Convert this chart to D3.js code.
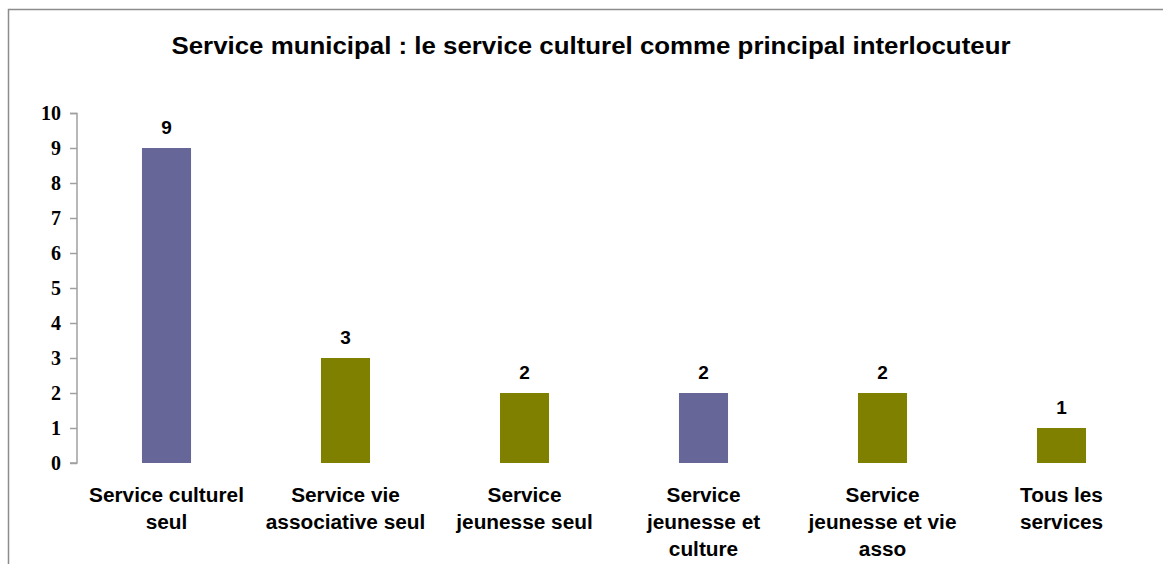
<!DOCTYPE html>
<html>
<head>
<meta charset="utf-8">
<script src="https://cdn.jsdelivr.net/npm/d3@7"></script>
<style>
  body { margin: 0; background: #fff; }
  svg { display: block; }
</style>
</head>
<body>
<script>
// chart data
var categories = ["Service culturel seul", "Service vie associative seul", "Service jeunesse seul",
                  "Service jeunesse et culture", "Service jeunesse et vie asso", "Tous les services"];
var labelLines = [["Service culturel", "seul"], ["Service vie", "associative seul"], ["Service", "jeunesse seul"],
                  ["Service", "jeunesse et", "culture"], ["Service", "jeunesse et vie", "asso"], ["Tous les", "services"]];
var values = [9, 3, 2, 2, 2, 1];
var barColors = ["#666699", "#808000", "#808000", "#666699", "#808000", "#808000"];
var yTicks = [0, 1, 2, 3, 4, 5, 6, 7, 8, 9, 10];
var title = "Service municipal : le service culturel comme principal interlocuteur";

var width = 1163, height = 564;

var svg = d3.select("body").append("svg")
    .attr("width", width)
    .attr("height", height);

// outer frame
svg.append("rect")
    .attr("x", 8.5).attr("y", 9.5)
    .attr("width", 1200).attr("height", 600)
    .attr("fill", "none")
    .attr("stroke", "#8c8c8c")
    .attr("stroke-width", 1.5);

svg.append("text")
    .attr("x", 591).attr("y", 54)
    .attr("text-anchor", "middle")
    .attr("textLength", 839)
    .attr("lengthAdjust", "spacingAndGlyphs")
    .style("font-family", "Liberation Sans, Arial, sans-serif")
    .style("font-weight", "bold")
    .style("font-size", "23px")
    .text(title);

var x = d3.scaleBand()
    .domain(categories)
    .range([77, 1151])
    .paddingInner(0.726)
    .paddingOuter(0.363);

var y = d3.scaleLinear()
    .domain([0, 10])
    .range([463, 113]);

// bars
svg.append("g").selectAll("rect")
    .data(values)
    .enter().append("rect")
    .attr("x", function(d, i) { return x(categories[i]); })
    .attr("y", function(d) { return y(d); })
    .attr("width", x.bandwidth())
    .attr("height", function(d) { return y(0) - y(d); })
    .attr("fill", function(d, i) { return barColors[i]; });

// value labels
svg.append("g").selectAll("text")
    .data(values)
    .enter().append("text")
    .attr("x", function(d, i) { return x(categories[i]) + x.bandwidth() / 2; })
    .attr("y", function(d) { return y(d) - 14; })
    .attr("text-anchor", "middle")
    .style("font-family", "Liberation Sans, Arial, sans-serif")
    .style("font-weight", "bold")
    .style("font-size", "19px")
    .text(function(d) { return d; });

// y axis
var yAxis = svg.append("g")
    .attr("transform", "translate(77,0)")
    .call(d3.axisLeft(y).tickValues(yTicks).tickSize(7).tickPadding(9));
yAxis.selectAll("path, line").attr("stroke", "#a0a0a0").attr("stroke-width", 1.5);
yAxis.select(".domain").attr("d", "M-7,113.5H0V463H-7");
yAxis.selectAll("text")
    .attr("fill", "#000")
    .style("font-family", "Liberation Serif, Times New Roman, serif")
    .style("font-weight", "bold")
    .style("font-size", "20px");

// x labels
var xl = svg.append("g").selectAll("text")
    .data(categories)
    .enter().append("text")
    .attr("text-anchor", "middle")
    .attr("transform", function(d) { return "translate(" + (x(d) + x.bandwidth() / 2) + ",0) scale(1.04,1)"; })
    .style("font-family", "Liberation Sans, Arial, sans-serif")
    .style("font-weight", "bold")
    .style("font-size", "20px");
xl.selectAll("tspan")
    .data(function(d, i) { return labelLines[i]; })
    .enter().append("tspan")
    .attr("x", 0)
    .attr("y", function(d, j) { return 502 + j * 27; })
    .text(function(d) { return d; });
</script>
</body>
</html>
